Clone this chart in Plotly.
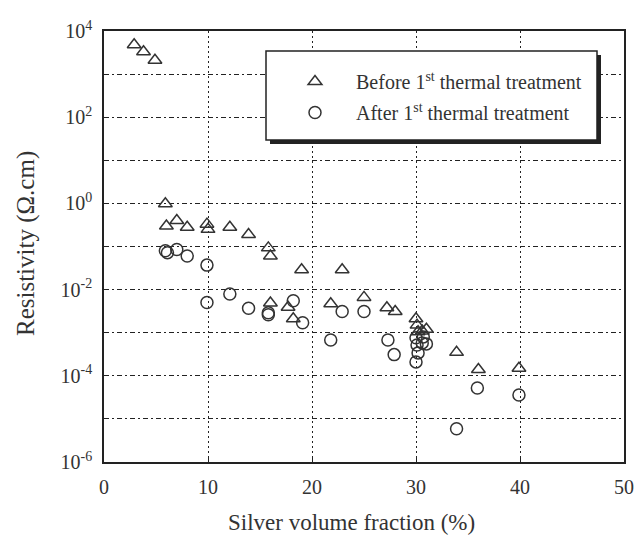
import plotly.graph_objects as go

# Before 1st thermal treatment (triangles)
before_x = [2.9, 3.8, 4.9, 5.9, 6.0, 7.0, 8.0, 9.9, 10.0, 12.1, 13.9, 15.8, 16.0,
            19.0, 22.9, 16.0, 17.7, 18.2, 21.8, 25.0, 27.2, 28.0,
            30.0, 30.1, 30.2, 30.6, 31.0, 33.9, 36.0, 39.9]
before_y = [4800, 3300, 2100, 0.98, 0.30, 0.40, 0.28, 0.33, 0.25, 0.28, 0.19, 0.093, 0.06,
            0.029, 0.029, 0.0049, 0.0039, 0.0021, 0.0047, 0.0066, 0.0038, 0.0031,
            0.0021, 0.0015, 0.00105, 0.0011, 0.0012, 0.00035, 0.00014, 0.00015]

# After 1st thermal treatment (circles)
after_x = [5.9, 6.1, 7.0, 8.0, 9.9, 9.9, 12.1, 13.9, 15.8, 15.8, 18.2, 19.1, 21.8,
           22.9, 25.0, 27.3, 27.9, 30.0, 30.1, 30.2, 30.0, 30.7, 30.6, 31.0,
           33.9, 35.9, 39.9]
after_y = [0.08, 0.072, 0.085, 0.06, 0.037, 0.005, 0.0079, 0.0037, 0.0029, 0.0026, 0.0055, 0.0017, 0.00068,
           0.0031, 0.0031, 0.00068, 0.00031, 0.00076, 0.00052, 0.00034, 0.00021, 0.0008, 0.00058, 0.00055,
           5.9e-6, 5.2e-5, 3.6e-5]

x_ticks = [0, 10, 20, 30, 40, 50]
y_tickvals = [1e-6, 1e-5, 1e-4, 1e-3, 1e-2, 1e-1, 1, 10, 100, 1000, 1e4]
y_ticktext = ["10<sup>-6</sup>", "", "10<sup>-4</sup>", "", "10<sup>-2</sup>", "",
              "10<sup>0</sup>", "", "10<sup>2</sup>", "", "10<sup>4</sup>"]

FONT = "Liberation Serif, Times New Roman, serif"
INK = "#333333"

fig = go.Figure()
fig.add_trace(go.Scatter(
    x=before_x, y=before_y, mode="markers", name="Before 1<sup>st</sup> thermal treatment",
    legendgroup="a",
    marker=dict(symbol="triangle-up-open", size=12, color=INK, line=dict(width=1.5, color=INK)),
))
fig.add_trace(go.Scatter(
    x=after_x, y=after_y, mode="markers", name="After 1<sup>st</sup> thermal treatment",
    legendgroup="b",
    marker=dict(symbol="circle-open", size=12, color=INK, line=dict(width=1.5, color=INK)),
))

L, R, T, B = 104, 13, 31, 74
W, H = 637, 536
pw, ph = W - L - R, H - T - B

def px_to_paper(x, y):
    return (x - L) / pw, (H - B - y) / ph

# legend box shadow + box
x0, y1 = px_to_paper(266, 51)
x1, y0 = px_to_paper(597, 140)
sx0, sy1 = px_to_paper(270, 55)
sx1, sy0 = px_to_paper(601, 144)
fig.add_shape(type="rect", xref="paper", yref="paper", x0=sx0, x1=sx1, y0=sy0, y1=sy1,
              fillcolor="#222222", line=dict(width=0), layer="above")
fig.add_shape(type="rect", xref="paper", yref="paper", x0=x0, x1=x1, y0=y0, y1=y1,
              fillcolor="white", line=dict(width=1.5, color="#222222"), layer="above")

# axis titles
tx, ty = px_to_paper(351, 522)
fig.add_annotation(text="Silver volume fraction (%)", xref="paper", yref="paper", x=tx, y=ty,
                   xanchor="center", yanchor="middle",
                   showarrow=False, font=dict(size=23, family=FONT, color=INK))
vx, vy = px_to_paper(26, 244)
fig.add_annotation(text="Resistivity (Ω.cm)", xref="paper", yref="paper", x=vx, y=vy,
                   xanchor="center", yanchor="middle",
                   textangle=-90, showarrow=False, font=dict(size=25, family=FONT, color=INK))

lx, ly = px_to_paper(274, 62)
fig.update_layout(
    width=W, height=H,
    margin=dict(l=L, r=R, t=T, b=B, autoexpand=False),
    paper_bgcolor="white", plot_bgcolor="white",
    font=dict(family=FONT, color=INK, size=16),
    showlegend=True,
    legend=dict(x=lx, y=ly, xanchor="left", yanchor="top", bgcolor="rgba(0,0,0,0)",
                borderwidth=0, font=dict(size=20, family=FONT, color=INK),
                tracegroupgap=2, itemwidth=72),
    xaxis=dict(range=[0, 50], tickvals=x_ticks, ticks="inside", ticklen=5, tickcolor="#222",
               showline=True, linecolor="#222", linewidth=1.5, mirror=True,
               showgrid=True, gridcolor="#222", gridwidth=1.4, griddash="2px,3px",
               zeroline=False, tickfont=dict(size=20), automargin=False,
               ticklabelstandoff=6),
    yaxis=dict(type="log", range=[-6, 4], tickvals=y_tickvals, ticktext=y_ticktext,
               ticks="inside", ticklen=5, tickcolor="#222",
               showline=True, linecolor="#222", linewidth=1.5, mirror=True,
               showgrid=True, gridcolor="#222", gridwidth=1.4, griddash="5px,3px,2px,3px",
               zeroline=False, tickfont=dict(size=20), automargin=False,
               ticklabelstandoff=6),
)

fig.write_html("out.html", config={"displayModeBar": False},
               post_script="document.body.style.margin='0';document.body.style.overflow='hidden';")
